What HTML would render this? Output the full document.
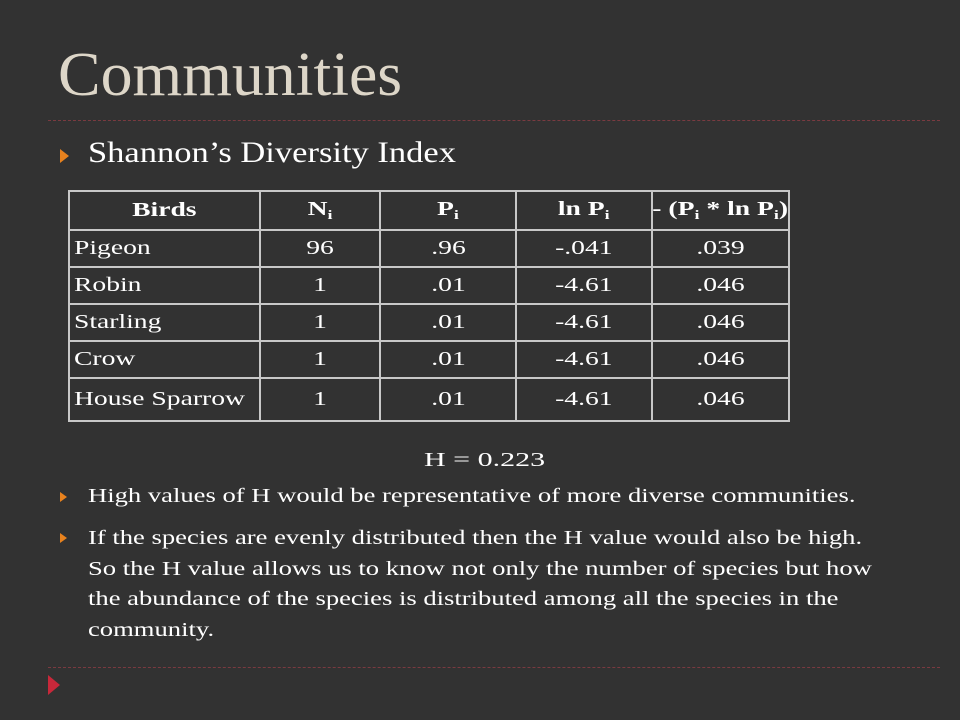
<!DOCTYPE html>
<html><head><meta charset="utf-8"><style>
body{margin:0;width:960px;height:720px;background:#323232;overflow:hidden;position:relative;font-family:"Liberation Serif",serif;color:#fff}
.a{position:absolute}
.sx{transform-origin:left top;white-space:nowrap}
table{border-collapse:collapse;position:absolute;left:68px;top:190px}
td{border:2px solid #c8c8c8;height:35px;padding:0 4px;font-size:20px;text-align:center}
td.l{text-align:left}
th{border:2px solid #c8c8c8;height:35px;font-size:20px}
td span,th span{display:inline-block;transform:scaleX(1.38);white-space:nowrap}
td.l span{transform-origin:left center}
sub{font-size:13px;vertical-align:-4px}
.tri{width:0;height:0;border-top:7px solid transparent;border-bottom:7px solid transparent;border-left:9px solid #e8821e}
</style></head><body>
<div class="a" style="left:58px;top:40px;font-size:62px;color:#ddd6c8;transform:scaleX(1.03);transform-origin:left top">Communities</div>
<div class="a" style="left:48px;top:120px;width:892px;border-top:1px dashed #7a3a40"></div>
<div class="a tri" style="left:60px;top:149px"></div>
<div class="a sx" style="left:88px;top:136px;font-size:30px;transform:scaleX(1.15)">Shannon’s Diversity Index</div>
<table>
<tr><th style="width:187px"><span>Birds</span></th><th style="width:116px"><span>N<sub>i</sub></span></th><th style="width:132px"><span>P<sub>i</sub></span></th><th style="width:132px"><span>ln P<sub>i</sub></span></th><th style="width:133px"><span>- (P<sub>i</sub> * ln P<sub>i</sub>)</span></th></tr>
<tr><td class="l"><span>Pigeon</span></td><td><span>96</span></td><td><span>.96</span></td><td><span>-.041</span></td><td><span>.039</span></td></tr>
<tr><td class="l"><span>Robin</span></td><td><span>1</span></td><td><span>.01</span></td><td><span>-4.61</span></td><td><span>.046</span></td></tr>
<tr><td class="l"><span>Starling</span></td><td><span>1</span></td><td><span>.01</span></td><td><span>-4.61</span></td><td><span>.046</span></td></tr>
<tr><td class="l"><span>Crow</span></td><td><span>1</span></td><td><span>.01</span></td><td><span>-4.61</span></td><td><span>.046</span></td></tr>
<tr><td class="l" style="height:41px"><span>House Sparrow</span></td><td><span>1</span></td><td><span>.01</span></td><td><span>-4.61</span></td><td><span>.046</span></td></tr>
</table>
<div class="a sx" style="left:424px;top:449px;font-size:20px;transform:scaleX(1.5)">H = 0.223</div>
<div class="a tri" style="left:60px;top:492px;border-top-width:5px;border-bottom-width:5px;border-left-width:7px"></div>
<div class="a sx" style="left:88px;top:485px;font-size:20px;transform:scaleX(1.33)">High values of H would be representative of more diverse communities.</div>
<div class="a tri" style="left:60px;top:533px;border-top-width:5px;border-bottom-width:5px;border-left-width:7px"></div>
<div class="a sx" style="left:88px;top:523px;font-size:20px;line-height:30.5px;transform:scaleX(1.33)">If the species are evenly distributed then the H value would also be high.<br>So the H value allows us to know not only the number of species but how<br>the abundance of the species is distributed among all the species in the<br>community.</div>
<div class="a" style="left:48px;top:667px;width:892px;border-top:1px dashed #7a3a40"></div>
<div class="a" style="left:48px;top:675px;width:0;height:0;border-top:10px solid transparent;border-bottom:10px solid transparent;border-left:12px solid #c8283a"></div>
</body></html>
